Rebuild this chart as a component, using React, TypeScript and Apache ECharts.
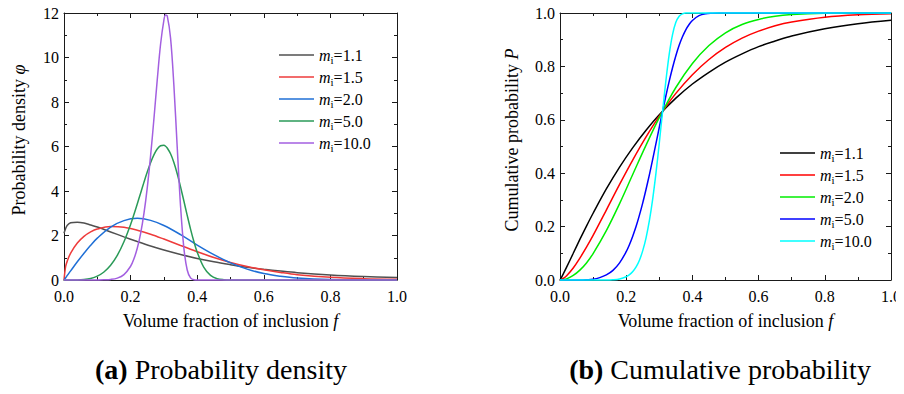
import React, { useEffect, useRef } from 'react';
import * as echarts from 'echarts';

const FONT = "'Liberation Serif', 'Times New Roman', serif";

// shared x-grid for m = 1.1, 1.5, 2.0
const F_A = [0, 0.005, 0.01, 0.02, 0.04, 0.06, 0.08, 0.1, 0.14, 0.18, 0.22, 0.26, 0.3, 0.35, 0.4, 0.45, 0.5, 0.55, 0.6, 0.65, 0.7, 0.8, 0.9, 1.0];
// finer x-grid for m = 5.0, 10.0
const F_B = [0, 0.04, 0.06, 0.08, 0.1, 0.12, 0.14, 0.16, 0.18, 0.2, 0.21, 0.22, 0.23, 0.24, 0.25, 0.26, 0.27, 0.28, 0.29, 0.3, 0.305, 0.31, 0.32, 0.33, 0.34, 0.35, 0.36, 0.37, 0.38, 0.39, 0.4, 0.42, 0.44, 0.46, 0.48, 0.5, 0.6, 0.7, 0.8, 0.9, 1.0];

// (a) probability density
const PDF_11 = [2.1, 2.32, 2.46, 2.57, 2.6, 2.56, 2.47, 2.38, 2.16, 1.94, 1.73, 1.53, 1.35, 1.15, 0.97, 0.82, 0.69, 0.57, 0.48, 0.4, 0.33, 0.23, 0.16, 0.11];
const PDF_15 = [0, 0.61, 0.86, 1.21, 1.66, 1.96, 2.16, 2.29, 2.4, 2.37, 2.24, 2.06, 1.84, 1.55, 1.27, 1.01, 0.79, 0.61, 0.46, 0.34, 0.24, 0.12, 0.06, 0.03];
const PDF_20 = [0, 0.1, 0.21, 0.41, 0.82, 1.2, 1.56, 1.88, 2.38, 2.67, 2.77, 2.68, 2.45, 2.04, 1.57, 1.14, 0.77, 0.49, 0.29, 0.17, 0.09, 0.02, 0.004, 0.001];
const PDF_50 = [0, 0.005, 0.023, 0.072, 0.174, 0.359, 0.659, 1.103, 1.716, 2.499, 2.945, 3.417, 3.903, 4.387, 4.85, 5.27, 5.623, 5.885, 6.034, 6.054, 6.012, 5.934, 5.672, 5.279, 4.774, 4.185, 3.549, 2.904, 2.287, 1.729, 1.251, 0.566, 0.206, 0.059, 0.013, 0.002, 0, 0, 0, 0, 0];
const PDF_100 = [0, 0, 0, 0, 0.001, 0.006, 0.025, 0.084, 0.241, 0.617, 0.95, 1.426, 2.089, 2.983, 4.143, 5.576, 7.237, 8.992, 10.594, 11.684, 11.912, 11.867, 10.868, 8.739, 5.969, 3.322, 1.432, 0.449, 0.096, 0.012, 0.001, 0, 0, 0, 0, 0, 0, 0, 0, 0, 0];

// (b) cumulative probability
const CDF_11 = [0, 0.011, 0.023, 0.048, 0.1, 0.152, 0.202, 0.25, 0.341, 0.423, 0.496, 0.561, 0.619, 0.681, 0.734, 0.778, 0.816, 0.847, 0.874, 0.895, 0.914, 0.941, 0.96, 0.973];
const CDF_15 = [0, 0.002, 0.006, 0.016, 0.045, 0.082, 0.123, 0.167, 0.262, 0.358, 0.45, 0.536, 0.614, 0.699, 0.769, 0.826, 0.871, 0.906, 0.932, 0.952, 0.966, 0.984, 0.993, 0.997];
const CDF_20 = [0, 0, 0.001, 0.004, 0.017, 0.037, 0.064, 0.099, 0.185, 0.286, 0.396, 0.505, 0.608, 0.721, 0.811, 0.878, 0.926, 0.957, 0.976, 0.988, 0.994, 0.999, 1.0, 1.0];
const CDF_50 = [0, 0, 0, 0.001, 0.003, 0.009, 0.019, 0.036, 0.064, 0.106, 0.133, 0.165, 0.201, 0.243, 0.289, 0.34, 0.394, 0.452, 0.512, 0.572, 0.602, 0.632, 0.69, 0.745, 0.795, 0.84, 0.879, 0.911, 0.937, 0.957, 0.972, 0.99, 0.997, 0.999, 1.0, 1.0, 1, 1, 1, 1, 1];
const CDF_100 = [0, 0, 0, 0, 0, 0, 0, 0.001, 0.004, 0.012, 0.02, 0.032, 0.049, 0.074, 0.11, 0.158, 0.222, 0.303, 0.401, 0.513, 0.573, 0.632, 0.747, 0.846, 0.919, 0.965, 0.988, 0.997, 1.0, 1.0, 1, 1, 1, 1, 1, 1, 1, 1, 1, 1, 1];

const M_LABELS = ['1.1', '1.5', '2.0', '5.0', '10.0'];
const COLORS_A = ['#505050', '#ee3b3b', '#1f6fd6', '#2a9a58', '#a35fe0'];
const COLORS_B = ['#000000', '#ff0000', '#00ee00', '#0000ff', '#00ffff'];

const X_NAME = 'Volume fraction of inclusion {i|f}';
const Y_NAME_A = 'Probability density {i|φ}';
const Y_NAME_B = 'Cumulative probability {i|P}';
const CAPTION_A = '{b|(a)} Probability density';
const CAPTION_B = '{b|(b)} Cumulative probability';

function zip(xs: number[], ys: number[]) {
  return xs.map((x, i) => [x, ys[i]]);
}

const lineCol = { color: '#1a1a1a', width: 1 };
const nameStyle = {
  fontFamily: FONT, fontSize: 18, color: '#000',
  rich: { i: { fontFamily: FONT, fontSize: 18, fontStyle: 'italic', color: '#000' } },
};
const labelStyle = { fontFamily: FONT, fontSize: 16, color: '#000' };

function makeX(gridIndex: number, position: string, main: boolean): any {
  return {
    type: 'value', gridIndex, position, min: 0, max: 1, interval: 0.2,
    axisLine: { show: true, onZero: false, lineStyle: lineCol },
    axisTick: { show: true, inside: true, length: 5, lineStyle: lineCol },
    minorTick: { show: true, splitNumber: 2, length: 3, lineStyle: lineCol },
    splitLine: { show: false },
    minorSplitLine: { show: false },
    axisLabel: { show: main, margin: 9, lineHeight: 14, formatter: (v: number) => v.toFixed(1), ...labelStyle },
    name: main ? X_NAME : '',
    nameLocation: 'middle', nameGap: 32, nameTextStyle: nameStyle,
  };
}

function makeY(gridIndex: number, position: string, main: boolean, max: number, interval: number, digits: number, name: string, gap: number): any {
  return {
    type: 'value', gridIndex, position, min: 0, max, interval,
    axisLine: { show: true, onZero: false, lineStyle: lineCol },
    axisTick: { show: true, inside: true, length: 5, lineStyle: lineCol },
    minorTick: { show: true, splitNumber: 2, length: 3, lineStyle: lineCol },
    splitLine: { show: false },
    minorSplitLine: { show: false },
    axisLabel: { show: main, margin: 5, lineHeight: 13, formatter: (v: number) => v.toFixed(digits), ...labelStyle },
    name: main ? name : '',
    nameLocation: 'middle', nameGap: gap, nameRotate: 90,
    nameTextStyle: { ...nameStyle, padding: [0, 0, 0, 13] },
  };
}

const legendRich = {
  m: { fontFamily: FONT, fontSize: 16, fontStyle: 'italic', color: '#000' },
  s: { fontFamily: FONT, fontSize: 11, color: '#000', padding: [10, 0, 0, 0] },
  n: { fontFamily: FONT, fontSize: 16, color: '#000' },
};

function makeLegend(prefix: string, left: number, top: number): any {
  return {
    orient: 'vertical', left, top, padding: 0, itemGap: 3.5,
    itemWidth: 35, itemHeight: 1.6, icon: 'rect', selectedMode: false,
    data: M_LABELS.map((m) => prefix + m),
    formatter: (n: string) => `{m|m}{s|i}{n|=${n.slice(1)}}`,
    textStyle: { fontFamily: FONT, fontSize: 16, color: '#000', rich: legendRich },
  };
}

export default function App() {
  const ref = useRef<HTMLDivElement>(null);
  useEffect(() => {
    if (!ref.current) return;
    const chart = echarts.init(ref.current, undefined, { renderer: 'svg' });
    const pdfs = [zip(F_A, PDF_11), zip(F_A, PDF_15), zip(F_A, PDF_20), zip(F_B, PDF_50), zip(F_B, PDF_100)];
    const cdfs = [zip(F_A, CDF_11), zip(F_A, CDF_15), zip(F_A, CDF_20), zip(F_B, CDF_50), zip(F_B, CDF_100)];
    const series: any[] = [];
    pdfs.forEach((d, i) => series.push({
      type: 'line', name: 'A' + M_LABELS[i], xAxisIndex: 0, yAxisIndex: 0, data: d,
      showSymbol: false, symbol: 'none', smooth: 0.35, clip: false,
      color: COLORS_A[i], lineStyle: { width: 1.5, color: COLORS_A[i] },
    }));
    cdfs.forEach((d, i) => series.push({
      type: 'line', name: 'B' + M_LABELS[i], xAxisIndex: 2, yAxisIndex: 2, data: d,
      showSymbol: false, symbol: 'none', smooth: 0.35, clip: false,
      color: COLORS_B[i], lineStyle: { width: 1.5, color: COLORS_B[i] },
    }));
    const capStyle = (text: string) => ({
      text, align: 'center', verticalAlign: 'middle',
      fontFamily: FONT, fontSize: 28, fill: '#000',
      rich: {
        b: { fontFamily: FONT, fontSize: 28, fontWeight: 'bold', fill: '#000' },
      },
    });
    chart.setOption({
      animation: false,
      backgroundColor: '#fff',
      grid: [
        { left: 64, top: 13, width: 333, height: 267 },
        { left: 560, top: 13, width: 333, height: 267 },
      ],
      xAxis: [makeX(0, 'bottom', true), makeX(0, 'top', false), makeX(1, 'bottom', true), makeX(1, 'top', false)],
      yAxis: [
        makeY(0, 'left', true, 12, 2, 0, Y_NAME_A, 36),
        makeY(0, 'right', false, 12, 2, 0, '', 0),
        makeY(1, 'left', true, 1, 0.2, 1, Y_NAME_B, 39),
        makeY(1, 'right', false, 1, 0.2, 1, '', 0),
      ],
      legend: [makeLegend('A', 279, 47), makeLegend('B', 780, 145)],
      series,
      graphic: [
        { type: 'text', x: 221, y: 369, style: capStyle(CAPTION_A) },
        { type: 'text', x: 720, y: 369, style: capStyle(CAPTION_B) },
      ],
    });
    return () => chart.dispose();
  }, []);
  return <div ref={ref} style={{ width: 904, height: 394, margin: -8 }} />;
}
